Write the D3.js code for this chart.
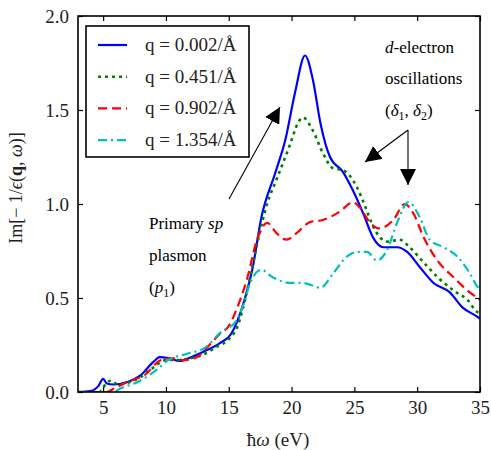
<!DOCTYPE html>
<html>
<head>
<meta charset="utf-8">
<script src="https://cdn.jsdelivr.net/npm/d3@7"></script>
<style>
  body { margin: 0; background: #fff; }
  svg text { font-family: "Liberation Serif", "Times New Roman", serif; }
</style>
</head>
<body>
<svg id="chart" width="491" height="450"></svg>
<script>
// ===== DATOS =====
const energias = {
  q0002: [3, 4, 4.6, 5.0, 5.3, 5.8, 7, 8, 9, 9.5, 10.2, 11.1, 12, 13, 14.3, 15.2, 15.7, 16.3, 16.9, 17.6, 18.7, 19.5, 20.3, 21.07, 21.7, 22.3, 23.06, 24.1, 24.9, 25.7, 26.5, 27.3, 28.4, 29.2, 30.2, 31.3, 32.6, 33.6, 34.8, 35],
  q0451: [3, 4.7, 5.3, 5.6, 6.2, 7, 8, 9, 10, 11, 12, 13, 14, 15, 15.7, 16.5, 17.3, 18.05, 18.8, 19.9, 20.5, 20.9, 21.7, 22.5, 23.3, 24.1, 25.2, 25.9, 26.5, 27.6, 28.6, 29.4, 30.5, 31.8, 32.9, 34, 34.8, 35],
  q0902: [3, 5.3, 5.9, 7, 8.3, 9.6, 10.4, 11.5, 12.3, 13.6, 14.3, 15, 15.5, 16.45, 17.25, 18.05, 18.8, 19.6, 20.4, 21.5, 22.5, 23.85, 24.9, 25.45, 26.25, 27.0, 28.1, 29.0, 29.7, 30.5, 31.6, 32.9, 34, 34.8, 35],
  q1354: [3, 5.8, 6.4, 7.8, 9.1, 10.2, 11.75, 13.1, 14.4, 15.5, 16.2, 16.7, 17.6, 18.5, 19.9, 20.9, 22.3, 23.3, 24.4, 25.2, 26.0, 26.8, 27.6, 28.4, 29.3, 30.2, 31, 32.1, 33.2, 34.2, 34.8, 35]
};
const perdida = {
  q0002: [0, 0.005, 0.03, 0.07, 0.045, 0.04, 0.055, 0.09, 0.16, 0.185, 0.18, 0.165, 0.185, 0.215, 0.26, 0.31, 0.38, 0.5, 0.66, 0.93, 1.165, 1.34, 1.6, 1.79, 1.66, 1.43, 1.25, 1.17, 1.07, 0.95, 0.82, 0.77, 0.77, 0.745, 0.665, 0.58, 0.53, 0.45, 0.40, 0.39],
  q0451: [0, 0.0, 0.05, 0.06, 0.04, 0.05, 0.08, 0.13, 0.17, 0.17, 0.18, 0.2, 0.24, 0.28, 0.35, 0.55, 0.8, 1.0, 1.13, 1.32, 1.43, 1.46, 1.39, 1.27, 1.19, 1.18, 1.09, 0.98, 0.88, 0.80, 0.81, 0.77, 0.69, 0.6, 0.54, 0.49, 0.425, 0.42],
  q0902: [0, 0.0, 0.02, 0.055, 0.09, 0.17, 0.18, 0.17, 0.18, 0.26, 0.31, 0.35, 0.42, 0.6, 0.81, 0.90, 0.845, 0.81, 0.845, 0.905, 0.915, 0.96, 1.01, 0.98, 0.9, 0.87, 0.915, 1.0, 0.95, 0.825, 0.7, 0.61, 0.54, 0.5, 0.49],
  q1354: [0, 0.0, 0.02, 0.055, 0.11, 0.17, 0.205, 0.235, 0.32, 0.37, 0.47, 0.58, 0.65, 0.61, 0.58, 0.58, 0.555, 0.63, 0.72, 0.745, 0.745, 0.70, 0.755, 0.9, 1.01, 0.93, 0.81, 0.77, 0.72, 0.63, 0.56, 0.55]
};
const claves = ["q0002", "q0451", "q0902", "q1354"];
const etiquetas = ["q = 0.002/Å", "q = 0.451/Å", "q = 0.902/Å", "q = 1.354/Å"];
const colores = ["#0000ff", "#008000", "#ff0000", "#00bfbf"];
const trazos = [null, "3,4", "9,5", "9,4,2,4"];
const ticksX = [5, 10, 15, 20, 25, 30, 35];
const ticksY = [0.0, 0.5, 1.0, 1.5, 2.0];

const fuente = "'Liberation Serif', 'Times New Roman', serif";

// ===== ESCALAS =====
const svg = d3.select("#chart");
const m = { left: 78, right: 480, top: 16, bottom: 392 };
const x = d3.scaleLinear().domain([3, 35]).range([m.left, m.right]);
const y = d3.scaleLinear().domain([0, 2]).range([m.bottom, m.top]);

svg.append("defs").append("clipPath").attr("id", "clip")
  .append("rect").attr("x", m.left).attr("y", m.top)
  .attr("width", m.right - m.left).attr("height", m.bottom - m.top);

// ===== CURVAS =====
const linea = d3.line().x(d => x(d[0])).y(d => y(d[1])).curve(d3.curveMonotoneX);

claves.forEach((k, i) => {
  const pts = energias[k].map((e, j) => [e, perdida[k][j]]);
  svg.append("path")
    .attr("clip-path", "url(#clip)")
    .attr("d", linea(pts))
    .attr("fill", "none")
    .attr("stroke", colores[i])
    .attr("stroke-width", i === 1 ? 2.6 : 2.2)
    .attr("stroke-dasharray", trazos[i]);
});

// ===== EJES =====
const tk = 5;
const ejeB = svg.append("g").attr("transform", `translate(0,${m.bottom})`)
  .call(d3.axisBottom(x).tickValues(ticksX).tickSizeInner(-tk).tickSizeOuter(0).tickPadding(9));
const ejeT = svg.append("g").attr("transform", `translate(0,${m.top})`)
  .call(d3.axisTop(x).tickValues(ticksX).tickSizeInner(-tk).tickSizeOuter(0).tickFormat(""));
const ejeL = svg.append("g").attr("transform", `translate(${m.left},0)`)
  .call(d3.axisLeft(y).tickValues(ticksY).tickSizeInner(-tk).tickSizeOuter(0).tickPadding(9).tickFormat(d3.format(".1f")));
const ejeR = svg.append("g").attr("transform", `translate(${m.right},0)`)
  .call(d3.axisRight(y).tickValues(ticksY).tickSizeInner(-tk).tickSizeOuter(0).tickFormat(""));

[ejeB, ejeT, ejeL, ejeR].forEach(g => {
  g.attr("font-family", fuente);
  g.select(".domain").remove();
  g.selectAll(".tick line").attr("stroke", "#000").attr("stroke-width", 1.2);
  g.selectAll(".tick text").attr("font-size", 19).attr("fill", "#222");
});

svg.append("rect")
  .attr("x", m.left).attr("y", m.top)
  .attr("width", m.right - m.left).attr("height", m.bottom - m.top)
  .attr("fill", "none").attr("stroke", "#000").attr("stroke-width", 1.6);

// Etiquetas de ejes
const tx = svg.append("text").attr("x", 278).attr("y", 446)
  .attr("text-anchor", "middle").attr("font-size", 19).attr("fill", "#222");
tx.append("tspan").text("ħ");
tx.append("tspan").attr("font-style", "italic").text("ω");
tx.append("tspan").text(" (eV)");

const ty = svg.append("text")
  .attr("transform", "translate(22,188) rotate(-90)")
  .attr("text-anchor", "middle").attr("font-size", 18).attr("fill", "#222");
ty.append("tspan").text("Im[− 1/");
ty.append("tspan").attr("font-style", "italic").text("ϵ");
ty.append("tspan").text("(");
ty.append("tspan").attr("font-weight", "bold").text("q");
ty.append("tspan").text(", ");
ty.append("tspan").attr("font-style", "italic").text("ω");
ty.append("tspan").text(")]");

// ===== LEYENDA =====
const ley = svg.append("g");
ley.append("rect").attr("x", 86).attr("y", 26).attr("width", 163).attr("height", 131)
  .attr("fill", "#fff").attr("stroke", "#000").attr("stroke-width", 1.6);
etiquetas.forEach((t, i) => {
  const yy = 45 + i * 31.7;
  ley.append("line").attr("x1", 98).attr("x2", 127).attr("y1", yy).attr("y2", yy)
    .attr("stroke", colores[i]).attr("stroke-width", i === 1 ? 2.6 : 2.2)
    .attr("stroke-dasharray", trazos[i]);
  ley.append("text").attr("x", 145).attr("y", yy + 6).attr("font-size", 19)
    .attr("fill", "#222").text(t);
});

// ===== ANOTACIONES =====
svg.append("defs").append("marker").attr("id", "punta")
  .attr("viewBox", "0 0 10 10").attr("refX", 10).attr("refY", 5)
  .attr("markerWidth", 16).attr("markerHeight", 16).attr("orient", "auto")
  .attr("markerUnits", "userSpaceOnUse")
  .append("path").attr("d", "M0,0 L10,5 L0,10 z").attr("fill", "#000");

function flecha(x1, y1, x2, y2) {
  svg.append("line").attr("x1", x1).attr("y1", y1).attr("x2", x2).attr("y2", y2)
    .attr("stroke", "#000").attr("stroke-width", 1.1).attr("marker-end", "url(#punta)");
}
flecha(229, 199, 280, 107);
flecha(408, 130, 365, 162);
flecha(408, 130, 408, 185);

function texto(xx, yy, partes) {
  const t = svg.append("text").attr("x", xx).attr("y", yy).attr("font-size", 17).attr("fill", "#000");
  partes.forEach(p => {
    const s = t.append("tspan").text(p[0]);
    if (p[1] === "i") s.attr("font-style", "italic");
    if (p[1] === "sub") s.attr("font-size", 12).attr("dy", 4);
    if (p[1] === "up") s.attr("dy", -4);
  });
}
texto(149, 229, [["Primary "], ["sp", "i"]]);
texto(149, 261, [["plasmon"]]);
texto(149, 293, [["("], ["p", "i"], ["1", "sub"], [")", "up"]]);
texto(385, 53, [["d", "i"], ["-electron"]]);
texto(385, 84, [["oscillations"]]);
texto(385, 116, [["("], ["δ", "i"], ["1", "sub"], [", ", "up"], ["δ", "i"], ["2", "sub"], [")", "up"]]);
</script>
</body>
</html>
